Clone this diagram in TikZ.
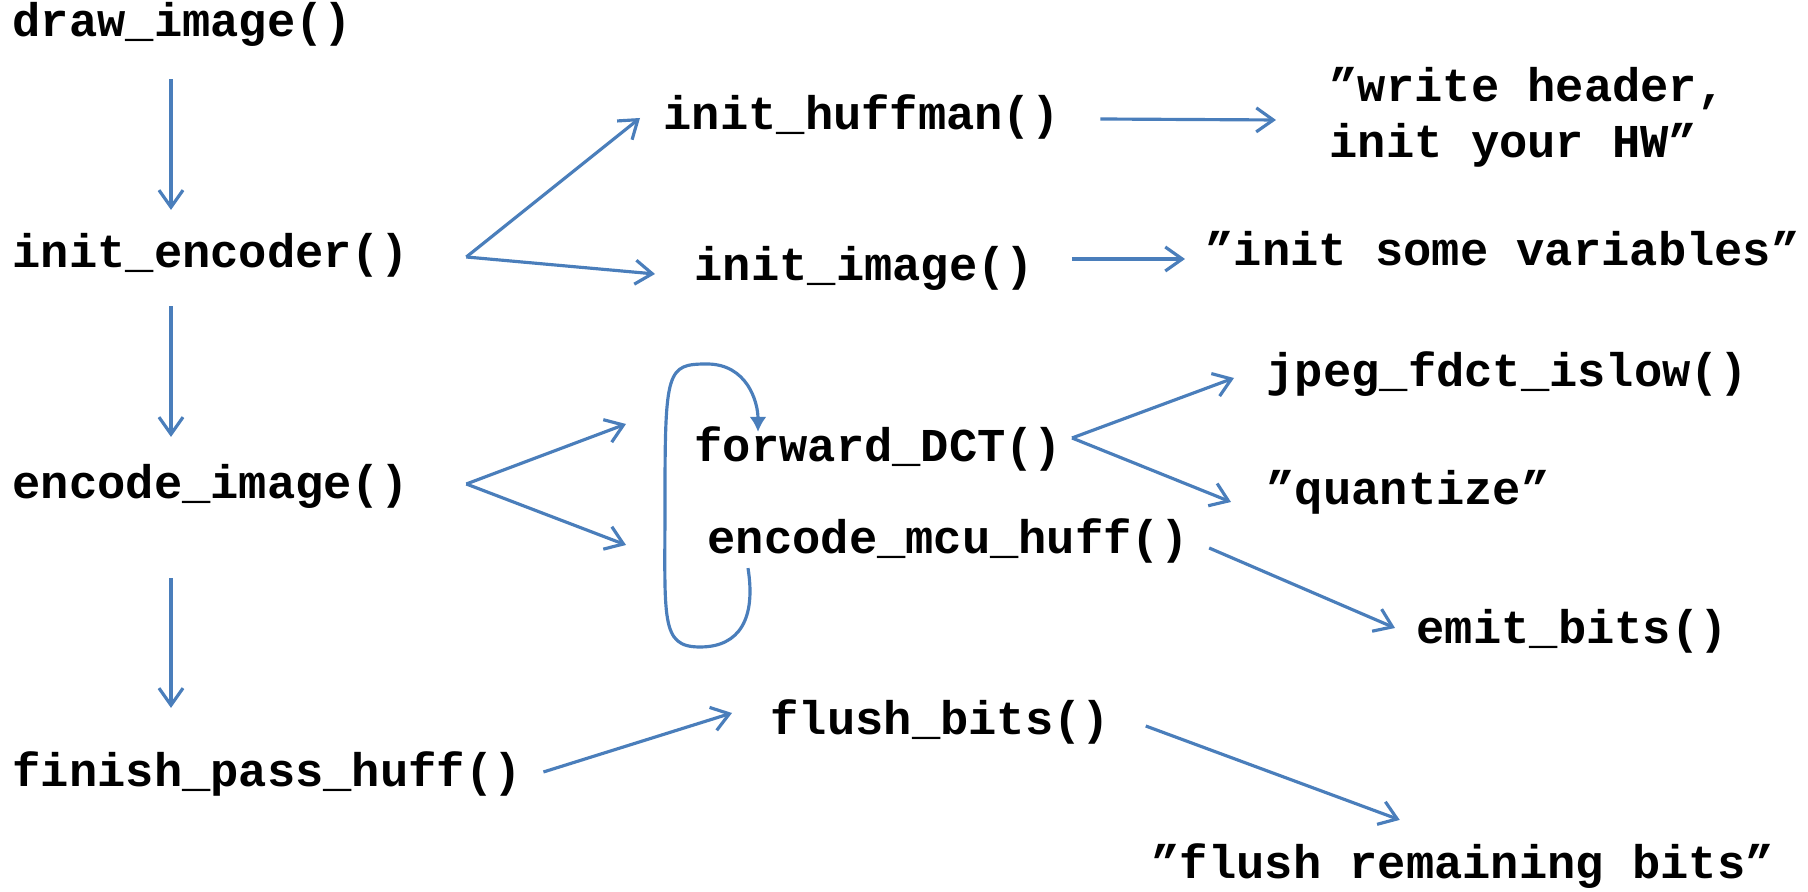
\documentclass[tikz,border=0pt]{standalone}
\usepackage{fontspec}
\setmonofont{Liberation Mono}
\usetikzlibrary{arrows.meta}
\definecolor{callblue}{RGB}{74,126,187}

\begin{document}
\begin{tikzpicture}[
   x=0.01cm,y=-0.01cm,
   font=\ttfamily\bfseries\fontsize{13.4pt}{15.9pt}\selectfont,
   fn/.style={inner sep=0pt,anchor=west,text height=10pt,text depth=3.3pt},
   note/.style={inner sep=0pt,anchor=west,align=left},
   to/.style={-{Straight Barb[length=0.17cm,width=0.24cm]},line width=0.9pt,color=callblue},
   again/.style={-{Latex[length=0.15cm,width=0.17cm]},line width=0.9pt,color=callblue}]
\useasboundingbox (0,0) rectangle (1808,892);
\node[fn] (drawimg) at (12,25) {draw\_image()};
\node[fn] (initenc) at (12,256) {init\_encoder()};
\node[fn] (encimg) at (12,487) {encode\_image()};
\node[fn] (finish) at (12,775) {finish\_pass\_huff()};
\node[fn] (inithuff) at (663,118) {init\_huffman()};
\node[fn] (initimg) at (694,269) {init\_image()};
\node[note] (header) at (1329,117) {”write header,\\init your HW”};
\node[fn] (vars) at (1205,254) {”init some variables”};
\node[fn] (fdct) at (694,450) {forward\_DCT()};
\node[fn] (mcu) at (707,542) {encode\_mcu\_huff()};
\node[fn] (islow) at (1266,375) {jpeg\_fdct\_islow()};
\node[fn] (quant) at (1266,493) {”quantize”};
\node[fn] (emit) at (1416,632) {emit\_bits()};
\node[fn] (flush) at (770,723) {flush\_bits()};
\node[fn] (remain) at (1151,867) {”flush remaining bits”};
% call chain down the left
\draw[to] ([shift={(159,30)}]drawimg.south west) -- ([shift={(159,-22)}]initenc.north west);
\draw[to] ([shift={(159,26)}]initenc.south west) -- ([shift={(159,-26)}]encimg.north west);
\draw[to] ([shift={(159,67)}]encimg.south west) -- ([shift={(159,-43)}]finish.north west);
% callees
\draw[to] ([shift={(57,1)}]initenc.east) -- ([shift={(-23,0)}]inithuff.west);
\draw[to] ([shift={(57,1)}]initenc.east) -- ([shift={(-39,5)}]initimg.west);
\draw[to] ([shift={(40,1)}]inithuff.east) -- ([shift={(-53,3)}]header.west);
\draw[to] ([shift={(37,-10)}]initimg.east) -- ([shift={(-20,5)}]vars.west);
\draw[to] ([shift={(57,-3)}]encimg.east) -- ([shift={(-68,-26)}]fdct.west);
\draw[to] ([shift={(57,-3)}]encimg.east) -- ([shift={(-81,3)}]mcu.west);
\draw[to] ([shift={(9,-12)}]fdct.east) -- ([shift={(-32,3)}]islow.west);
\draw[to] ([shift={(9,-12)}]fdct.east) -- ([shift={(-35,9)}]quant.west);
\draw[to] ([shift={(20,6)}]mcu.east) -- ([shift={(-21,-4)}]emit.west);
\draw[to] ([shift={(21,-3)}]finish.east) -- ([shift={(-38,-10)}]flush.west);
\draw[to] ([shift={(35,3)}]flush.east) -- ([shift={(-63,-23)}]remain.north);
% loop over the blocks
\draw[again] ([shift={(41,2)}]mcu.south west) .. controls +(8,50) and +(40,0) .. (700,647)
   .. controls +(-40,0) and +(0,120) .. (665,500)
   .. controls +(0,-130) and +(-40,0) .. (707,364)
   .. controls +(40,0) and +(0,-30) .. ([shift={(64,6)}]fdct.north west);
\end{tikzpicture}
\end{document}
